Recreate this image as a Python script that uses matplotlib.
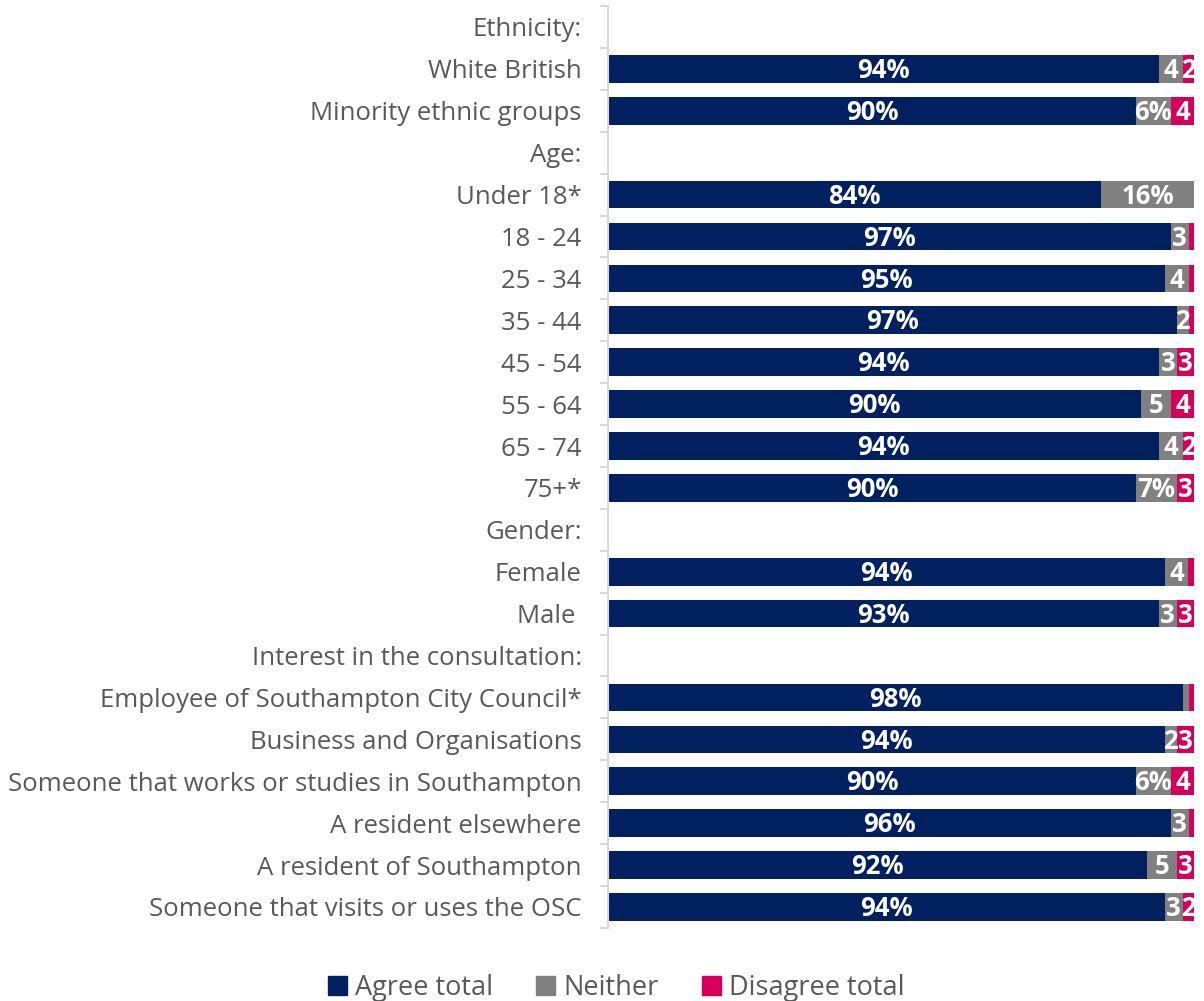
import numpy as np
import matplotlib.pyplot as plt
from matplotlib.patches import Patch

plt.rcParams['font.family'] = ['Open Sans', 'DejaVu Sans']

# 分组标题行没有数据 (None)
categories = [
    'Ethnicity:', 'White British', 'Minority ethnic groups',
    'Age:', 'Under 18*', '18 - 24', '25 - 34', '35 - 44', '45 - 54',
    '55 - 64', '65 - 74', '75+*',
    'Gender:', 'Female', 'Male ',
    'Interest in the consultation:', 'Employee of Southampton City Council*',
    'Business and Organisations', 'Someone that works or studies in Southampton',
    'A resident elsewhere', 'A resident of Southampton',
    'Someone that visits or uses the OSC',
]
agree = [None, 94, 90, None, 84, 97, 95, 97, 94, 90, 94, 90,
         None, 94, 93, None, 98, 94, 90, 96, 92, 94]
neither = [None, 4, 6, None, 16, 3, 4, 2, 3, 5, 4, 7,
           None, 4, 3, None, 1, 2, 6, 3, 5, 3]
disagree = [None, 2, 4, None, 0, 1, 1, 1, 3, 4, 2, 3,
            None, 1, 3, None, 1, 3, 4, 1, 3, 2]

series_names = ['Agree total', 'Neither', 'Disagree total']
colors = ['#002060', '#808080', '#D6005A']
text_color = '#595959'


def seg_label(v, first):
    if first:
        return f'{v}%'
    if v < 2:
        return ''
    if v >= 6:
        return f'{v}%'
    return f'{v}'


fig = plt.figure(figsize=(12.04, 10.01), dpi=100)
ax = fig.add_axes([0.505, 0.073, 0.487, 0.921])

y = np.arange(len(categories))
for i in range(len(categories)):
    if agree[i] is None:
        continue
    vals = [agree[i], neither[i], disagree[i]]
    total = float(sum(vals))
    left = 0.0
    for j, v in enumerate(vals):
        w = v / total * 100
        if w > 0:
            ax.barh(y[i], w, left=left, height=0.66, color=colors[j])
            lab = seg_label(v, j == 0)
            if lab:
                ax.text(left + w / 2, y[i] + 0.04, lab, ha='center', va='center',
                        color='white', fontsize=18.5, fontweight='bold')
        left += w

ax.set_xlim(0, 100)
ax.set_ylim(len(categories) - 0.5, -0.5)
ax.set_yticks(y)
ax.set_yticklabels(categories, fontsize=18.5, color=text_color)
ax.tick_params(axis='y', which='major', length=0, pad=19)
ax.set_yticks(np.arange(len(categories) + 1) - 0.5, minor=True)
ax.tick_params(axis='y', which='minor', length=6, color='#d9d9d9', width=1.5)
ax.set_xticks([])
for s in ['top', 'right', 'bottom']:
    ax.spines[s].set_visible(False)
ax.spines['left'].set_color('#d9d9d9')
ax.spines['left'].set_linewidth(1.5)

handles = [Patch(color=c, label=n) for c, n in zip(colors, series_names)]
leg = fig.legend(handles=handles, loc='center', bbox_to_anchor=(0.512, 0.013),
                 ncol=3, frameon=False, fontsize=19.5, handlelength=0.7,
                 handleheight=0.7, handletextpad=0.3, columnspacing=1.6)
for t in leg.get_texts():
    t.set_color(text_color)

fig.savefig('out.png', dpi=100)
